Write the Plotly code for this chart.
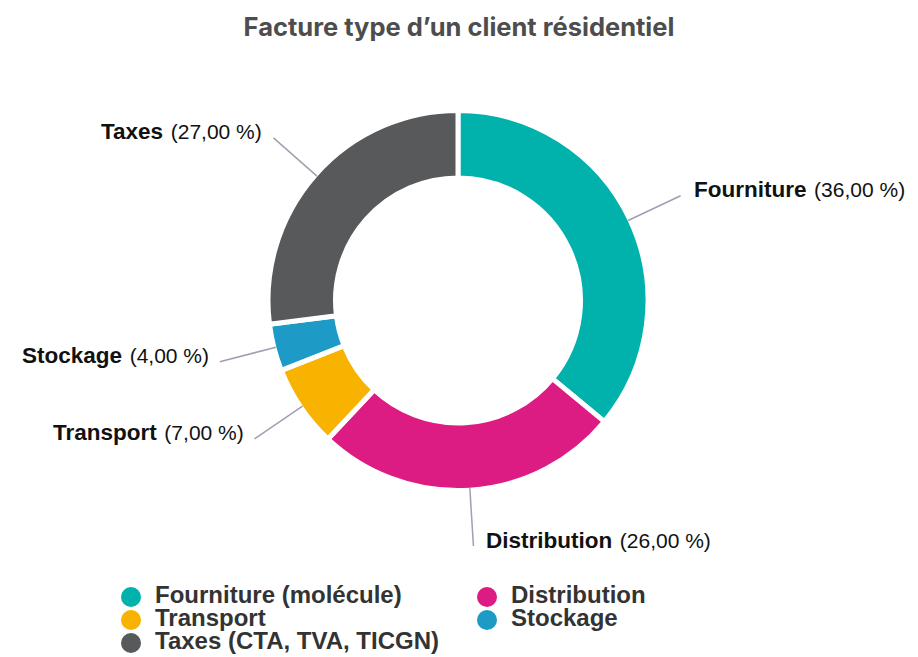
import math
import plotly.graph_objects as go

# Bill breakdown for a typical residential gas customer (%)
categories = ["Fourniture (molécule)", "Distribution", "Transport", "Stockage", "Taxes (CTA, TVA, TICGN)"]
short_names = ["Fourniture", "Distribution", "Transport", "Stockage", "Taxes"]
shares = [36, 26, 7, 4, 27]
colors = ["#00B2AB", "#DC1B83", "#F8B200", "#1E9AC6", "#58595B"]

W, H = 918, 657
CX, CY = 458, 300.5          # donut centre, px from top-left
R_OUT = 190                  # outer radius incl. half the white separator
SEP = 5                      # white separator width
R_LINE0, R_LINE1 = 188, 246  # leader line start / end radius
LINE_COLOR = "#A29EB2"
SANS = "Liberation Sans, Arial, sans-serif"


def to_paper(px, py):
    return px / W, 1 - py / H


x0p, y0p = to_paper(CX - R_OUT, CY + R_OUT)
x1p, y1p = to_paper(CX + R_OUT, CY - R_OUT)

fig = go.Figure()
fig.add_trace(go.Pie(
    labels=categories,
    values=shares,
    sort=False,
    direction="clockwise",
    rotation=0,
    hole=122.5 / R_OUT,
    marker=dict(colors=colors, line=dict(color="white", width=SEP)),
    textinfo="none",
    hoverinfo="label+percent",
    showlegend=False,
    domain=dict(x=[x0p, x1p], y=[y0p, y1p]),
))

# Outside labels with radial leader lines, placed at each slice's mid-angle
total = sum(shares)
cum = 0
shapes, annotations = [], []
for name, v in zip(short_names, shares):
    mid = (cum + v / 2) / total * 2 * math.pi
    cum += v
    s, c = math.sin(mid), math.cos(mid)
    sx, sy = CX + R_LINE0 * s, CY - R_LINE0 * c
    ex, ey = CX + R_LINE1 * s, CY - R_LINE1 * c
    a0 = to_paper(sx, sy)
    a1 = to_paper(ex, ey)
    shapes.append(dict(type="line", xref="paper", yref="paper",
                       x0=a0[0], y0=a0[1], x1=a1[0], y1=a1[1],
                       line=dict(color=LINE_COLOR, width=1.5)))
    right = s >= 0
    tx, ty = to_paper(ex + (11 if right else -9), ey - 6)
    pct = f"{v:.2f}".replace(".", ",")
    annotations.append(dict(
        xref="paper", yref="paper", x=tx, y=ty,
        xanchor="left" if right else "right", yanchor="middle",
        showarrow=False,
        text=f"<b><span style='font-size:22.5px'>{name}</span></b>\u200a ({pct} %)",
        font=dict(family=SANS, size=21, color="#111111"),
    ))

# Legend grid: two columns, entries filled row by row
COL_PX = 487 - 131           # distance between legend columns, px
leg_x = [i % 2 for i in range(len(categories))]
leg_y = [i // 2 for i in range(len(categories))]
fig.add_trace(go.Scatter(
    x=leg_x, y=leg_y,
    mode="markers",
    marker=dict(size=20, color=colors, symbol="circle"),
    cliponaxis=False,
    hoverinfo="skip",
    showlegend=False,
))
fig.add_trace(go.Scatter(
    x=[x + 24 / COL_PX for x in leg_x], y=leg_y,
    mode="text",
    text=categories,
    textposition="middle right",
    textfont=dict(family=SANS, size=24, color="#333333", weight="bold"),
    cliponaxis=False,
    hoverinfo="skip",
    showlegend=False,
))

fig.update_layout(
    width=W, height=H,
    margin=dict(l=0, r=0, t=0, b=0),
    paper_bgcolor="white",
    plot_bgcolor="rgba(0,0,0,0)",
    title=dict(
        text="Facture type d’un client résidentiel",
        x=0.5, xanchor="center", y=1 - 27 / H, yanchor="middle",
        font=dict(family="Inter, sans-serif", size=25.5, color="#4D4D4D", weight="bold"),
    ),
    xaxis=dict(domain=[131 / W, (131 + 2 * COL_PX) / W], range=[0, 2],
               visible=False, fixedrange=True),
    yaxis=dict(domain=[1 - 643 / H, 1 - 597 / H], range=[2, 0], visible=False, fixedrange=True),
    shapes=shapes,
    annotations=annotations,
)

fig.write_html("out.html")
